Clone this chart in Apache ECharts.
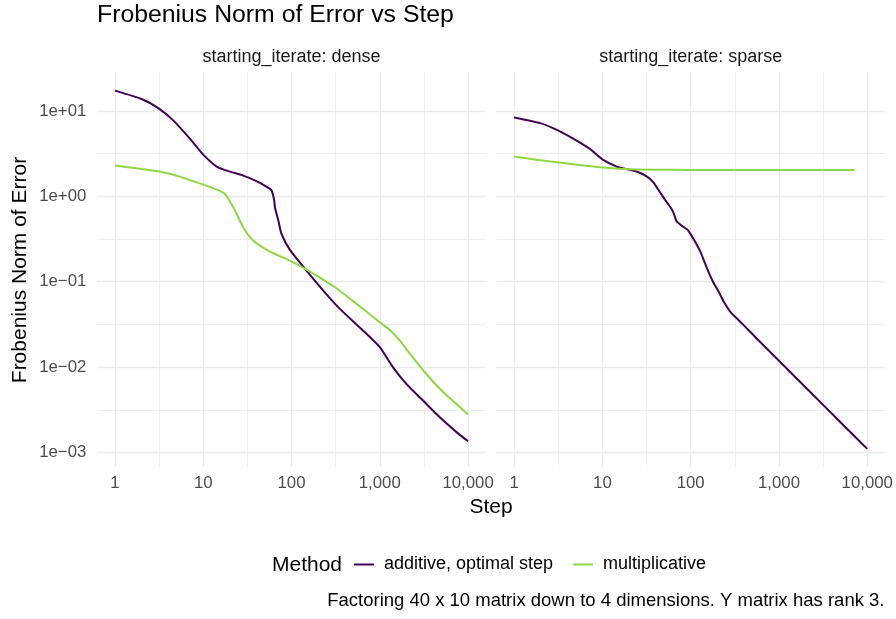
<!DOCTYPE html>
<html><head><meta charset="utf-8">
<script src="https://cdn.jsdelivr.net/npm/echarts@6/dist/echarts.min.js"></script>
<style>html,body{margin:0;padding:0;background:#fff}#c{width:896px;height:619px}</style>
</head><body><div id="c"></div>
<script>
// ---- data ----
const xTickValues = [1, 10, 100, 1000, 10000];
const xTickLabels = ['1', '10', '100', '1,000', '10,000'];
const yTickValues = [0.001, 0.01, 0.1, 1, 10];
const yTickLabels = ['1e\u221203', '1e\u221202', '1e\u221201', '1e+00', '1e+01'];
const panelTitles = ['starting_iterate: dense', 'starting_iterate: sparse'];
const methods = ['additive, optimal step', 'multiplicative'];
const methodColors = ['#440154', '#8FD744'];

const denseAdditiveStep = [1, 2, 3.1, 4.6, 7.1, 10, 14.2, 18.4, 28.4, 44, 57, 59.5, 62, 63.7, 65, 71, 77, 96, 148, 229, 353, 649, 1000, 1415, 2000, 3090, 4790, 7400, 10000];
const denseAdditiveErr  = [17.3, 13.8, 10.8, 7.7, 4.7, 3.08, 2.23, 2.0, 1.75, 1.44, 1.22, 1.17, 1.02, 0.89, 0.74, 0.52, 0.363, 0.236, 0.135, 0.0787, 0.048, 0.0267, 0.0171, 0.00994, 0.00635, 0.00405, 0.00258, 0.00173, 0.00135];

const denseMultStep = [1, 1.92, 3.2, 5.4, 10, 14.2, 17.6, 21.9, 28.4, 36.8, 57, 96, 155, 310, 546, 1000, 1300, 1690, 2000, 3240, 5230, 7400, 10000];
const denseMultErr  = [2.29, 2.1, 1.95, 1.7, 1.37, 1.2, 1.07, 0.743, 0.434, 0.303, 0.225, 0.177, 0.135, 0.086, 0.055, 0.0335, 0.0272, 0.0204, 0.0162, 0.0087, 0.00507, 0.0037, 0.00278];

const sparseAdditiveStep = [1, 1.97, 3.04, 5.1, 7.2, 10.2, 14.5, 18.8, 24.4, 31.7, 37.7, 49, 60.8, 64.6, 69.2, 78.9, 93.8, 127, 151, 180, 210, 240, 280, 330, 400, 556, 937, 1578, 3160, 5310, 10000];
const sparseAdditiveErr  = [8.4, 7.2, 6.0, 4.5, 3.59, 2.67, 2.23, 2.09, 1.95, 1.71, 1.46, 0.973, 0.711, 0.622, 0.51, 0.454, 0.397, 0.231, 0.148, 0.0984, 0.0745, 0.0569, 0.0447, 0.0375, 0.0308, 0.0218, 0.0127, 0.0074, 0.00361, 0.00211, 0.0011];

const sparseMultStep = [1, 3.04, 9.4, 20.5, 40, 98, 7200];
const sparseMultErr  = [2.92, 2.5, 2.19, 2.07, 2.05, 2.04, 2.04];

// ---- layout / style ----
const FONT = 'Liberation Sans, Arial, Helvetica, sans-serif';
const X_MIN = Math.pow(10, -0.2), X_MAX = Math.pow(10, 4.2);
const Y_MIN = Math.pow(10, -3.167), Y_MAX = Math.pow(10, 1.448);
const grids = [
  {left: 97.3, top: 72.7, width: 388.4, height: 394},
  {left: 496.5, top: 72.7, width: 388.4, height: 394}
];
function pair(xs, ys) { return xs.map((x, i) => [x, ys[i]]); }
function lookup(vals, labels, v) {
  for (let i = 0; i < vals.length; i++) if (Math.abs(v / vals[i] - 1) < 1e-6) return labels[i];
  return '';
}
const gridColor = '#EBEBEB';
const xAxes = [], yAxes = [];
grids.forEach((g, gi) => {
  xAxes.push({type: 'log', logBase: 10, gridIndex: gi, min: X_MIN, max: X_MAX,
    axisLine: {show: false}, axisTick: {show: false},
    axisLabel: {margin: 8, color: '#4D4D4D', fontSize: 16.8, fontFamily: FONT, showMinLabel: false, showMaxLabel: false,
      formatter: v => lookup(xTickValues, xTickLabels, v)},
    splitLine: {show: true, showMinLine: false, showMaxLine: false, lineStyle: {color: gridColor, width: 1.3}}, z: 1});
  xAxes.push({type: 'log', logBase: Math.sqrt(10), gridIndex: gi, min: X_MIN, max: X_MAX, position: 'top',
    axisLine: {show: false}, axisTick: {show: false}, axisLabel: {show: false},
    splitLine: {show: true, showMinLine: false, showMaxLine: false, lineStyle: {color: gridColor, width: 0.8}}, z: 0});
  yAxes.push({type: 'log', logBase: 10, gridIndex: gi, min: Y_MIN, max: Y_MAX,
    axisLine: {show: false}, axisTick: {show: false},
    axisLabel: {show: gi === 0, margin: 11, color: '#4D4D4D', fontSize: 16.8, fontFamily: FONT, showMinLabel: false, showMaxLabel: false,
      formatter: v => lookup(yTickValues, yTickLabels, v)},
    splitLine: {show: true, showMinLine: false, showMaxLine: false, lineStyle: {color: gridColor, width: 1.3}}, z: 1});
  yAxes.push({type: 'log', logBase: Math.sqrt(10), gridIndex: gi, min: Y_MIN, max: Y_MAX, position: 'right',
    axisLine: {show: false}, axisTick: {show: false}, axisLabel: {show: false},
    splitLine: {show: true, showMinLine: false, showMaxLine: false, lineStyle: {color: gridColor, width: 0.8}}, z: 0});
});

function lineSeries(name, color, gi, data) {
  return {type: 'line', name: name, xAxisIndex: gi * 2, yAxisIndex: gi * 2, data: data,
    showSymbol: false, symbol: 'none', smooth: 0.2,
    lineStyle: {color: color, width: 2}, itemStyle: {color: color}, z: 5, animation: false};
}
const series = [
  lineSeries(methods[0], methodColors[0], 0, pair(denseAdditiveStep, denseAdditiveErr)),
  lineSeries(methods[1], methodColors[1], 0, pair(denseMultStep, denseMultErr)),
  lineSeries(methods[0], methodColors[0], 1, pair(sparseAdditiveStep, sparseAdditiveErr)),
  lineSeries(methods[1], methodColors[1], 1, pair(sparseMultStep, sparseMultErr))
];

function txt(x, y, text, size, color, align, extra) {
  return Object.assign({type: 'text', x: x, y: y, silent: true,
    style: {text: text, fontSize: size, fontFamily: FONT, fill: color, align: align || 'center', verticalAlign: 'middle'}}, extra || {});
}

const chart = echarts.init(document.getElementById('c'), null, {renderer: 'canvas'});
chart.setOption({
  animation: false,
  backgroundColor: '#ffffff',
  title: {text: 'Frobenius Norm of Error vs Step', left: 97, top: 3, padding: 0,
    textStyle: {fontSize: 24.8, fontWeight: 'normal', color: '#000000', fontFamily: FONT}},
  grid: grids,
  xAxis: xAxes,
  yAxis: yAxes,
  legend: {data: methods, left: 354, top: 555.5, padding: 0, itemGap: 20, itemWidth: 20, itemHeight: 2, icon: 'rect',
    textStyle: {fontSize: 18, color: '#000000', fontFamily: FONT, padding: [0, 0, 0, 5]}},
  series: series,
  graphic: [
    txt(291.5, 57, panelTitles[0], 18, '#1A1A1A'),
    txt(690.7, 57, panelTitles[1], 18, '#1A1A1A'),
    txt(491, 507, 'Step', 21, '#000000'),
    txt(20, 270, 'Frobenius Norm of Error', 21, '#000000', 'center', {rotation: Math.PI / 2}),
    txt(342, 565, 'Method', 21, '#000000', 'right'),
    txt(884.5, 601, 'Factoring 40 x 10 matrix down to 4 dimensions. Y matrix has rank 3.', 18.5, '#000000', 'right')
  ]
});
</script>
</body></html>
